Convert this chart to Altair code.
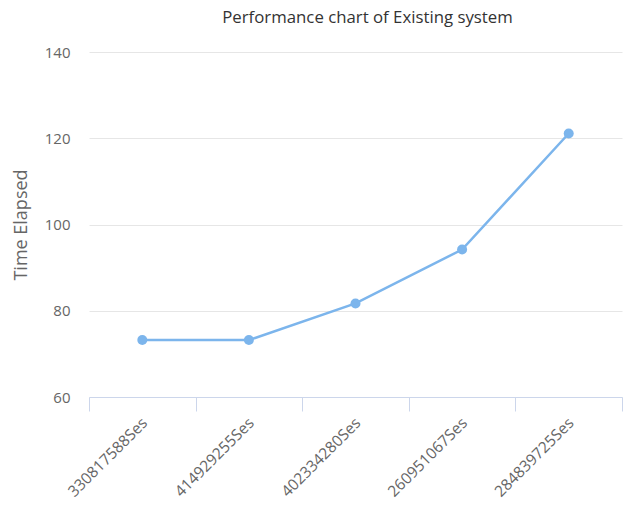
import altair as alt
import pandas as pd

# Session identifiers along the x axis and the time each one took
sessions = ["330817588Ses", "414929255Ses", "402334280Ses", "260951067Ses", "284839725Ses"]
time_elapsed = [73.2, 73.2, 81.7, 94.2, 121.1]

df = pd.DataFrame({"session": sessions, "time": time_elapsed})

FONT = "Open Sans"
LINE_COLOR = "#7cb5ec"

x = alt.X(
    "session:N",
    sort=sessions,
    bandPosition=0.5,
    scale=alt.Scale(type="band", paddingInner=0, paddingOuter=0),
    axis=alt.Axis(
        title=None,
        labelAngle=-45,
        labelAlign="right",
        labelBaseline="middle",
        labelFont=FONT,
        labelFontSize=15.5,
        labelColor="#666666",
        labelPadding=9,
        labelOffset=2,
        tickBand="extent",
        tickSize=14,
        tickColor="#ccd6eb",
        domainColor="#ccd6eb",
        grid=False,
    ),
)

y = alt.Y(
    "time:Q",
    scale=alt.Scale(domain=[60, 140], nice=False, zero=False),
    axis=alt.Axis(
        title="Time Elapsed",
        values=[60, 80, 100, 120, 140],
        titleFont=FONT,
        titleFontSize=18,
        titleFontWeight="normal",
        titleColor="#666666",
        titlePadding=14,
        labelFont=FONT,
        labelFontSize=15,
        labelColor="#666666",
        labelPadding=19,
        ticks=False,
        domain=False,
        grid=True,
        gridColor="#e6e6e6",
    ),
)

chart = (
    alt.Chart(df)
    .mark_line(
        color=LINE_COLOR,
        strokeWidth=2.5,
        point=alt.OverlayMarkDef(color=LINE_COLOR, size=100, filled=True, opacity=1),
    )
    .encode(x=x, y=y)
    .properties(
        width=533,
        height=345,
        autosize=alt.AutoSizeParams(type="none"),
        padding={"left": 89, "top": 52, "right": 9, "bottom": 109},
        title=alt.TitleParams(
            "Performance chart of Existing system",
            font=FONT,
            fontSize=16.8,
            fontWeight="normal",
            color="#333333",
            anchor="middle",
            dx=12,
            offset=18,
        ),
    )
    .configure_view(stroke=None)
)

chart.save("out.html", embed_options={"renderer": "svg", "actions": False})
